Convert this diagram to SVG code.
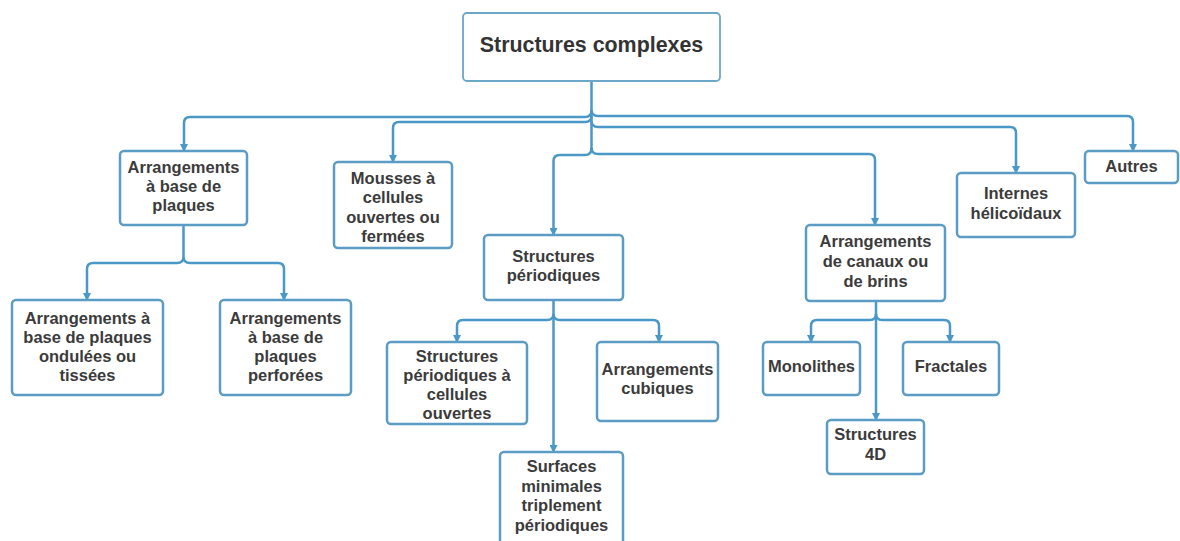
<svg xmlns="http://www.w3.org/2000/svg" width="1180" height="541" viewBox="0 0 1180 541">
<style>
.box{fill:#ffffff;stroke:#5a9cc3;stroke-width:2.5}
.root{fill:#ffffff;stroke:#6aa7c8;stroke-width:1.8}
.t{font-family:"Liberation Sans",Arial,sans-serif;font-weight:bold;font-size:16.5px;fill:#3b3b3b;text-anchor:middle}
.rt{font-family:"Liberation Sans",Arial,sans-serif;font-weight:bold;font-size:21.4px;fill:#333333;text-anchor:middle}
.c{fill:none;stroke:#4a98c8;stroke-width:2.5}
.a{marker-end:url(#arr)}
</style>
<defs>
<marker id="arr" viewBox="0 0 8 8" refX="7" refY="4" markerWidth="8" markerHeight="8" markerUnits="userSpaceOnUse" orient="auto">
<path d="M0,0 L8,4 L0,8 z" fill="#4a98c8"/>
</marker>
</defs>
<rect width="1180" height="541" fill="#ffffff"/>
<g id="connectors">
<path class="c" d="M591.5 82 V150"/>
<path class="c a" d="M591.5 110 Q591.5 117 585 117 H190 Q184 117 184 123 V151"/>
<path class="c a" d="M591.5 116 Q591.5 122 585 122 H399 Q393 122 393 128 V162"/>
<path class="c a" d="M591.5 110 Q591.5 116 598 116 H1127 Q1133 116 1133 122 V151"/>
<path class="c a" d="M591.5 121 Q591.5 127 598 127 H1010 Q1016 127 1016 133 V173"/>
<path class="c a" d="M591.5 148 Q591.5 154 598 154 H869 Q875 154 875 160 V225"/>
<path class="c a" d="M591.5 148 Q591.5 155 585 155 H560 Q553.5 155 553.5 161 V235"/>
<path class="c" d="M183.5 225 V257"/>
<path class="c a" d="M183.5 257 Q183.5 263 177 263 H93 Q87 263 87 269 V300"/>
<path class="c a" d="M183.5 257 Q183.5 263 190 263 H278 Q284 263 284 269 V300"/>
<path class="c a" d="M553.5 300 V452"/>
<path class="c a" d="M553.5 314 Q553.5 320 547 320 H463 Q457 320 457 326 V342"/>
<path class="c a" d="M553.5 314 Q553.5 320 560 320 H653 Q659 320 659 326 V342"/>
<path class="c a" d="M876 301 V420"/>
<path class="c a" d="M876 314 Q876 320 870 320 H817 Q811 320 811 326 V342"/>
<path class="c a" d="M876 314 Q876 320 882 320 H944 Q950 320 950 326 V342"/>
</g>
<g id="root">
<rect class="root" x="463" y="13" width="257" height="68" rx="4"/>
<text class="rt" x="591.5" y="52">Structures complexes</text>
</g>
<g id="plaques">
<rect class="box" x="120" y="151" width="127" height="74" rx="4"/>
<text class="t" x="183.5" y="173">Arrangements</text>
<text class="t" x="183.5" y="192">à base de</text>
<text class="t" x="183.5" y="211">plaques</text>
</g>
<g id="mousses">
<rect class="box" x="334" y="162" width="118" height="86" rx="4"/>
<text class="t" x="393" y="184">Mousses à</text>
<text class="t" x="393" y="203">cellules</text>
<text class="t" x="393" y="222.5">ouvertes ou</text>
<text class="t" x="393" y="242">fermées</text>
</g>
<g id="periodiques">
<rect class="box" x="484" y="235" width="139" height="65" rx="4"/>
<text class="t" x="553.5" y="262">Structures</text>
<text class="t" x="553.5" y="281">périodiques</text>
</g>
<g id="canaux">
<rect class="box" x="806" y="225" width="139" height="76" rx="4"/>
<text class="t" x="875.5" y="247">Arrangements</text>
<text class="t" x="875.5" y="267">de canaux ou</text>
<text class="t" x="875.5" y="287">de brins</text>
</g>
<g id="internes">
<rect class="box" x="957" y="173" width="118" height="64" rx="4"/>
<text class="t" x="1016" y="199">Internes</text>
<text class="t" x="1016" y="219">hélicoïdaux</text>
</g>
<g id="autres">
<rect class="box" x="1085" y="151" width="93" height="32" rx="4"/>
<text class="t" x="1131.5" y="172">Autres</text>
</g>
<g id="ondulees">
<rect class="box" x="12" y="300" width="151" height="95" rx="4"/>
<text class="t" x="87.5" y="324">Arrangements à</text>
<text class="t" x="87.5" y="343">base de plaques</text>
<text class="t" x="87.5" y="362">ondulées ou</text>
<text class="t" x="87.5" y="381">tissées</text>
</g>
<g id="perforees">
<rect class="box" x="220" y="300" width="131" height="95" rx="4"/>
<text class="t" x="285.5" y="324">Arrangements</text>
<text class="t" x="285.5" y="343">à base de</text>
<text class="t" x="285.5" y="362">plaques</text>
<text class="t" x="285.5" y="381">perforées</text>
</g>
<g id="cellules-ouvertes">
<rect class="box" x="387" y="342" width="140" height="82" rx="4"/>
<text class="t" x="457" y="362">Structures</text>
<text class="t" x="457" y="381">périodiques à</text>
<text class="t" x="457" y="400">cellules</text>
<text class="t" x="457" y="419">ouvertes</text>
</g>
<g id="cubiques">
<rect class="box" x="597" y="342" width="121" height="79" rx="4"/>
<text class="t" x="657.5" y="375">Arrangements</text>
<text class="t" x="657.5" y="394">cubiques</text>
</g>
<g id="surfaces">
<rect class="box" x="500" y="452" width="123" height="98" rx="4"/>
<text class="t" x="561.5" y="472">Surfaces</text>
<text class="t" x="561.5" y="491.5">minimales</text>
<text class="t" x="561.5" y="511">triplement</text>
<text class="t" x="561.5" y="530.5">périodiques</text>
</g>
<g id="monolithes">
<rect class="box" x="763" y="342" width="97" height="53" rx="4"/>
<text class="t" x="811.5" y="372">Monolithes</text>
</g>
<g id="fractales">
<rect class="box" x="903" y="342" width="96" height="53" rx="4"/>
<text class="t" x="951" y="372">Fractales</text>
</g>
<g id="structures-4d">
<rect class="box" x="827" y="420" width="97" height="54" rx="4"/>
<text class="t" x="875.5" y="440">Structures</text>
<text class="t" x="875.5" y="460">4D</text>
</g>
</svg>
